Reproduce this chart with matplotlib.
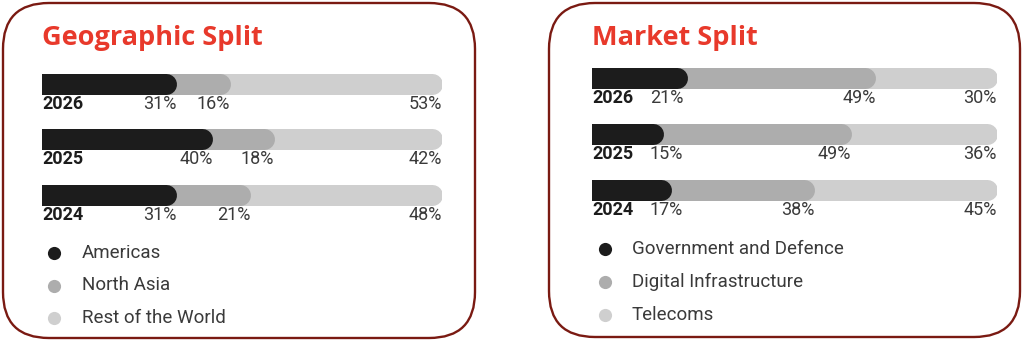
import matplotlib
matplotlib.use('Agg')
import matplotlib.pyplot as plt
from matplotlib.patches import FancyBboxPatch
import numpy as np

# データ
years = ['2026', '2025', '2024']

geo_title = 'Geographic Split'
geo_labels = ['Americas', 'North Asia', 'Rest of the World']
geo_americas = [31, 40, 31]
geo_north_asia = [16, 18, 21]
geo_rest = [53, 42, 48]

mkt_title = 'Market Split'
mkt_labels = ['Government and Defence', 'Digital Infrastructure', 'Telecoms']
mkt_gov = [21, 15, 17]
mkt_digital = [49, 49, 38]
mkt_telecom = [30, 36, 45]

# 色
colors = ['#1c1c1c', '#adadad', '#cfcfcf']
red = '#e8392b'
border = '#7a1a12'
text_c = '#3a3a3a'

W, H = 1024, 342
fig = plt.figure(figsize=(W / 100, H / 100), dpi=100)

# 背景(枠線)用のAxes: ピクセル座標
bg = fig.add_axes([0, 0, 1, 1])
bg.set_xlim(0, W)
bg.set_ylim(H, 0)
bg.axis('off')
for x0, x1, y0, y1 in [(3, 475, 3, 338), (549, 1020, 3, 337)]:
    bg.add_patch(FancyBboxPatch((x0 + 46, y0 + 46), x1 - x0 - 92, y1 - y0 - 92,
                                boxstyle='round,pad=46', fc='white',
                                ec=border, lw=1.7))


def draw_panel(title, labels, series, bx0, bx1, bar_y0, bar_gap, bar_h,
               leg_y0, leg_gap, dot_x, leg_text_x, first_label_x=None):
    # バー領域のAxes (x: 0-100, y: ピクセル)
    ax = fig.add_axes([bx0 / W, 0, (bx1 - bx0) / W, 1])
    ax.set_xlim(0, 100)
    ax.set_ylim(H, 0)
    ax.axis('off')
    px_per_unit = (bx1 - bx0) / 100.0
    r = bar_h / 2.0 / px_per_unit
    lw = bar_h * 72 / 100.0

    ax.text(0, 45, title, color=red, fontsize=19.5, fontweight='bold',
            family='Open Sans', va='baseline', ha='left')

    cum = np.cumsum(np.array(series), axis=0)  # (3, n)
    for i, yr in enumerate(years):
        yc = bar_y0 + i * bar_gap
        # 後ろから順に描画(右端は丸め)
        ends = [cum[0][i], cum[1][i] - r, cum[2][i] - r]
        for k in [2, 1, 0]:
            ax.plot([-10, ends[k]], [yc, yc], color=colors[k], lw=lw,
                    solid_capstyle='round', zorder=2 + (2 - k))
        ty = yc + bar_h / 2 + 10
        ax.text(0, ty, yr, fontsize=13, fontweight='bold', family='Roboto',
                color='#1c1c1c', va='center', ha='left')
        for k in range(3):
            lab = '%d%%' % series[k][i]
            if k == 0 and first_label_x is not None:
                ax.text(first_label_x, ty, lab, fontsize=13, family='Roboto',
                        color=text_c, va='center', ha='left')
            else:
                xe = cum[k][i] + (r if k == 0 else 0)
                ax.text(xe, ty, lab, fontsize=13, family='Roboto',
                        color=text_c, va='center', ha='right')

    # 凡例
    for k, lab in enumerate(labels):
        y = leg_y0 + k * leg_gap
        bg.scatter([dot_x], [y], s=90, color=colors[k], zorder=3, lw=0)
        bg.text(leg_text_x, y, lab, fontsize=13.5, family='Roboto',
                color=text_c, va='center', ha='left')


draw_panel(geo_title, geo_labels, [geo_americas, geo_north_asia, geo_rest],
           42, 442, 83.5, 55.5, 21, 253, 32.5, 54, 82)
draw_panel(mkt_title, mkt_labels, [mkt_gov, mkt_digital, mkt_telecom],
           592, 997, 77.5, 56, 21, 249, 33, 605, 632, first_label_x=14.3)

fig.savefig('out.png', dpi=100)
